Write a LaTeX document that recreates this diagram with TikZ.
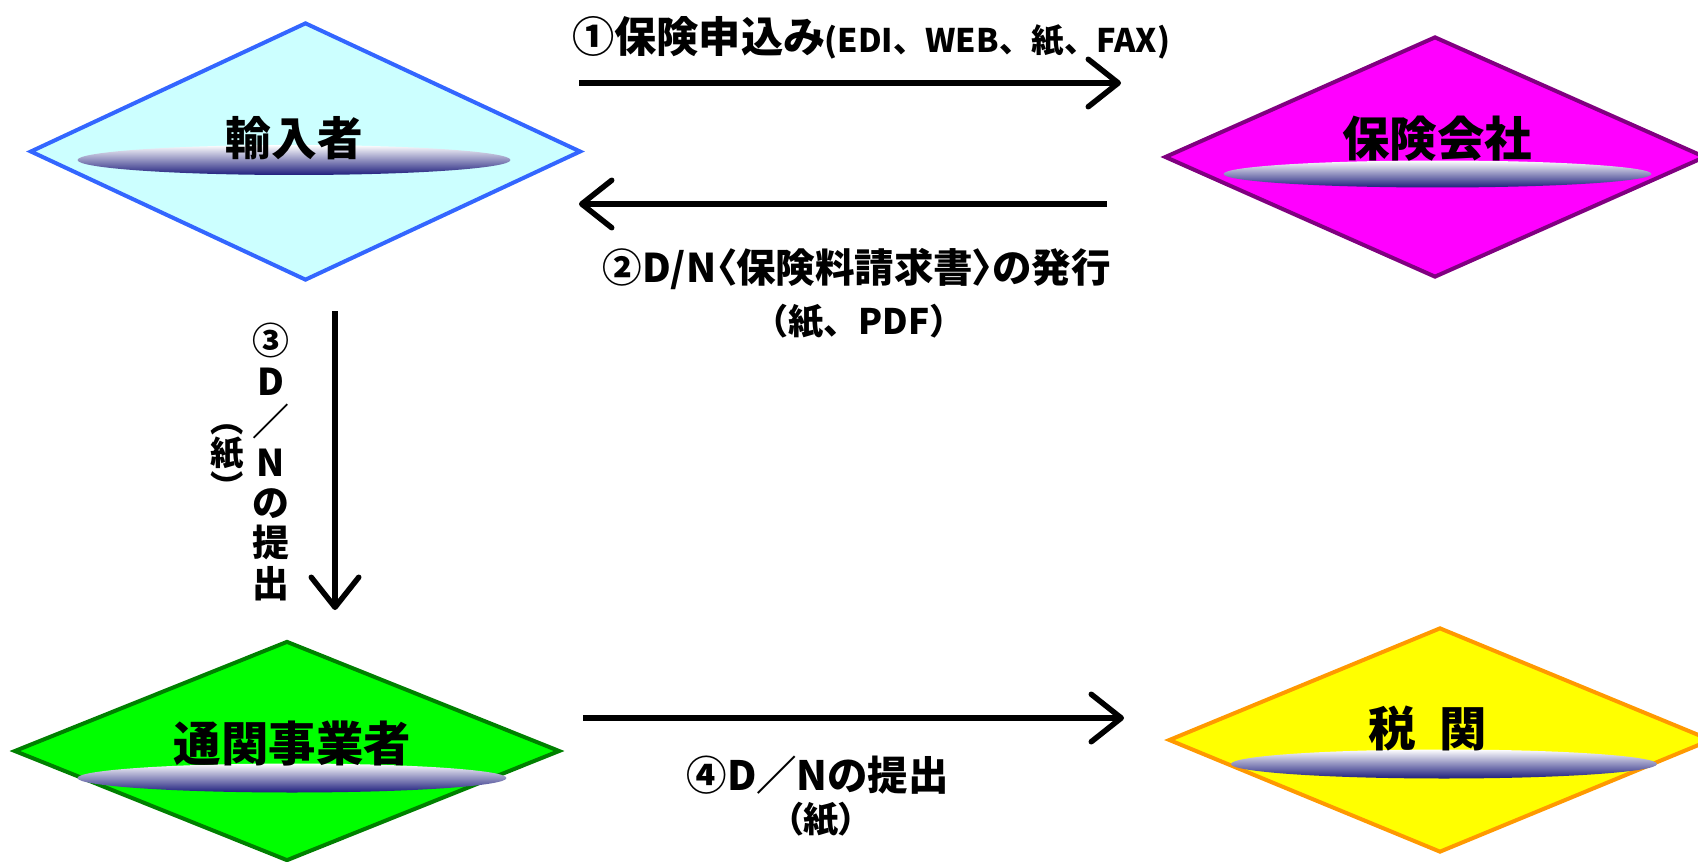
\documentclass[tikz,border=0pt]{standalone}
\usepackage{fontspec}
\setmainfont{Noto Sans CJK JP}[CharacterWidth=AlternateProportional]
\newfontfamily\jpancho{Noto Sans CJK JP}
\usetikzlibrary{shapes.geometric,arrows.meta}
\definecolor{celeste}{RGB}{204,255,255}
\definecolor{azulborde}{RGB}{51,102,255}
\definecolor{magenta1}{RGB}{255,0,255}
\definecolor{morado}{RGB}{128,0,128}
\definecolor{verde1}{RGB}{0,255,0}
\definecolor{verdeoscuro}{RGB}{0,128,0}
\definecolor{amarillo}{RGB}{255,255,0}
\definecolor{naranja}{RGB}{255,153,0}
\definecolor{sombragris}{RGB}{212,212,226}
\definecolor{sombraazul}{RGB}{30,30,125}
\tikzset{
  rombo/.style={diamond,draw,line width=0.08cm,inner sep=0pt},
  sombra/.style={ellipse,inner sep=0pt,top color=white,middle color=sombragris,bottom color=sombraazul},
  titulo/.style={font=\bfseries\fontsize{27}{27}\selectfont,inner sep=0pt},
  etiqueta/.style={font=\bfseries\fontsize{22.5}{25}\selectfont,inner sep=0pt,align=center},
  flecha/.style={line width=0.11cm,-{Straight Barb[length=0.6cm,width=0.95cm,round]}}
}
\begin{document}
\begin{tikzpicture}[x=0.02cm,y=-0.02cm]
    \useasboundingbox (0,0) rectangle (1698,862);
    % Dibuja los rombos
    \node[rombo,fill=celeste,draw=azulborde,minimum width=11.02cm,minimum height=5.16cm] (importador) at (305.5,151.5) {};
    \node[rombo,fill=magenta1,draw=morado,minimum width=10.82cm,minimum height=4.82cm] (aseguradora) at (1435,157) {};
    \node[rombo,fill=verde1,draw=verdeoscuro,minimum width=10.92cm,minimum height=4.4cm] (agente) at (287,751) {};
    \node[rombo,fill=amarillo,draw=naranja,minimum width=10.86cm,minimum height=4.5cm] (aduana) at (1440,740) {};
    \node[sombra,minimum width=8.66cm,minimum height=0.6cm] (sombra1) at (294,160) {};
    \node[sombra,minimum width=8.56cm,minimum height=0.54cm] (sombra2) at (1437.5,174) {};
    \node[sombra,minimum width=8.58cm,minimum height=0.58cm] (sombra3) at (292,778) {};
    \node[sombra,minimum width=8.52cm,minimum height=0.58cm] (sombra4) at (1444,764) {};
    \node[titulo,font=\bfseries\fontsize{26}{26}\selectfont] (nimportador) at (294.5,138.6) {輸入者};
    \node[titulo] (naseguradora) at (1437,138.6) {保険会社};
    \node[titulo] (nagente) at (292.4,744) {通関事業者};
    \node[titulo] (naduana) at (1427.3,728.8) {税\hspace{0.5em}関};
    % Flechas
    \coordinate (f1a) at (579,83);
    \coordinate (f1b) at (1121,83);
    \coordinate (f2a) at (1107,204);
    \coordinate (f2b) at (579,204);
    \coordinate (f3a) at (335,311);
    \coordinate (f3b) at (335,610);
    \coordinate (f4a) at (583,718);
    \coordinate (f4b) at (1124,718);
    \draw[flecha] (f1a) -- (f1b);
    \draw[flecha] (f2a) -- (f2b);
    \draw[flecha] (f3a) -- (f3b);
    \draw[flecha] (f4a) -- (f4b);
    \node[etiqueta,anchor=west,font=\bfseries\fontsize{24}{25}\selectfont] (e1) at (572,38) {①保険申込み{\jpancho\fontsize{18.5}{18.5}\selectfont(EDI、WEB、紙、FAX)}};
    \node[etiqueta] (e2) at (857,269) {②D/N〈保険料請求書〉の発行};
    \node[etiqueta,font=\jpancho\bfseries\fontsize{20}{20}\selectfont] (e2b) at (859,322) {（紙、PDF）};
    \node[etiqueta,font=\bfseries\fontsize{21}{23}\selectfont] (e3) at (271,462) {③\\D\\／\\N\\の\\提\\出};
    \node[etiqueta,font=\bfseries\fontsize{19}{13}\selectfont] (e3b) at (227,462) {︵\\紙\\︶};
    \node[etiqueta,font=\bfseries\fontsize{23}{25}\selectfont] (e4) at (817.5,775) {④D／Nの提出};
    \node[etiqueta,font=\bfseries\fontsize{20}{20}\selectfont] (e4b) at (821,820) {（紙）};
\end{tikzpicture}
\end{document}
